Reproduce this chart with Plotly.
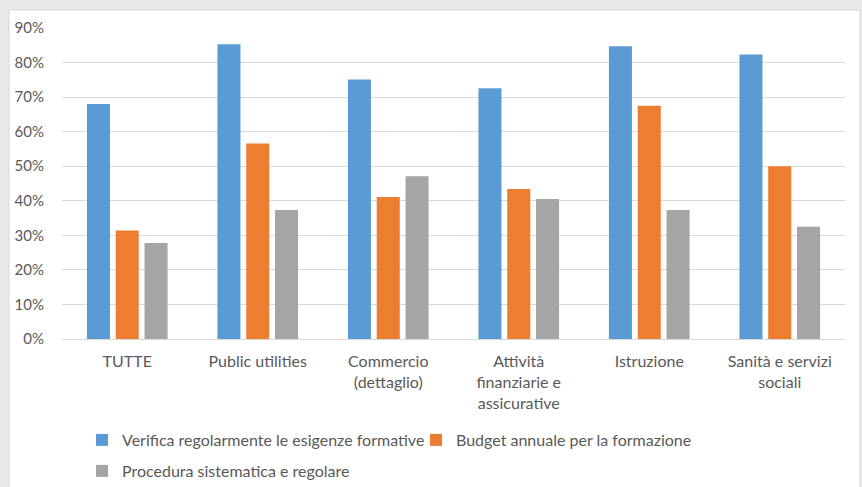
import plotly.graph_objects as go

categories = ["TUTTE", "Public utilities", "Commercio<br>(dettaglio)",
              "Attività<br>finanziarie e<br>assicurative", "Istruzione",
              "Sanità e servizi<br>sociali"]
series_names = ["Verifica regolarmente le esigenze formative",
                "Budget annuale per la formazione",
                "Procedura sistematica e regolare"]
verifica = [0.680, 0.853, 0.751, 0.726, 0.847, 0.823]
budget = [0.314, 0.566, 0.411, 0.434, 0.675, 0.500]
procedura = [0.278, 0.373, 0.471, 0.405, 0.373, 0.325]
colors = ["#5B9BD5", "#ED7D31", "#A5A5A5"]
y_ticks = [0, 0.1, 0.2, 0.3, 0.4, 0.5, 0.6, 0.7, 0.8, 0.9]

FONT = "Lato"
TXT = "#595959"

W, H = 862, 487
L, R, T, B = 62, 17, 28, 148
pw, ph = W - L - R, H - T - B

def px_x(p):
    return (p - L) / pw

def px_y(p):
    return (H - B - p) / ph

fig = go.Figure()
legend_ids = ["legend2", "legend3", "legend4"]
for name, vals, col, lg in zip(series_names, [verifica, budget, procedura], colors, legend_ids):
    fig.add_trace(go.Bar(x=categories, y=vals, name=name, marker=dict(color=col, line=dict(width=0)),
                         legend=lg))

legend_pos = [(82, 440), (416, 440), (82, 471)]
leg_common = dict(orientation="h", bgcolor="rgba(0,0,0,0)", borderwidth=0,
                  font=dict(family=FONT, size=16, color=TXT), itemwidth=30,
                  xanchor="left", yanchor="middle", xref="container", yref="container")

def lpos(p):
    return dict(x=p[0] / W, y=1 - p[1] / H)

fig.update_layout(
    width=W, height=H,
    margin=dict(l=L, r=R, t=T, b=B, pad=0),
    paper_bgcolor="#E8E9EB",
    plot_bgcolor="rgba(0,0,0,0)",
    barmode="group", bargap=0.338, bargroupgap=0.20,
    font=dict(family=FONT, size=16, color=TXT),
    showlegend=True,
    xaxis=dict(showgrid=False, showline=True, linecolor="#D9D9D9", linewidth=1,
               ticks="", tickfont=dict(family=FONT, size=16, color=TXT), ticklabelstandoff=8,
               automargin=False),
    yaxis=dict(range=[0, 0.9], tickvals=y_ticks, tickformat=".0%", showgrid=True,
               gridcolor="#D9D9D9", gridwidth=1, zeroline=False, showline=False,
               ticks="", tickfont=dict(family=FONT, size=15, color=TXT), ticklabelstandoff=17,
               automargin=False),
    legend2=dict(**lpos(legend_pos[0]), **leg_common),
    legend3=dict(**lpos(legend_pos[1]), **leg_common),
    legend4=dict(**lpos(legend_pos[2]), **leg_common),
    shapes=[dict(type="rect", xref="paper", yref="paper", layer="below",
                 x0=px_x(9), x1=px_x(860), y0=px_y(H + 20), y1=px_y(10),
                 fillcolor="white", line=dict(color="#D6D7D9", width=1))],
)

fig.write_html("out.html", config={"displayModeBar": False},
               post_script="document.body.style.margin='0';document.body.style.overflow='hidden';")
